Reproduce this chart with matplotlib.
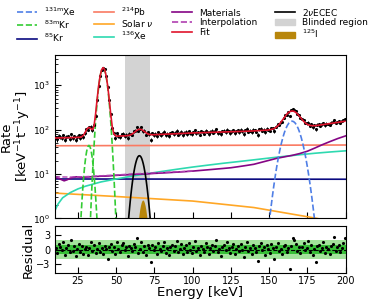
import numpy as np
import matplotlib
matplotlib.use("Agg")
import matplotlib.pyplot as plt
from matplotlib.lines import Line2D
from matplotlib.patches import Patch

# ---------------- data ----------------
bin_centers = np.arange(10.5, 200.0, 1.0)

fit_values = [
    64.6, 64.7, 64.9, 65.0, 65.2, 65.3, 65.5, 65.6, 65.8, 65.9,
    66.1, 66.2, 66.4, 66.5, 66.7, 66.8, 67.0, 69.2, 73.9, 83.4,
    97.1, 108.9, 111.4, 104.6, 98.9, 119.2, 215.0, 465.7, 945.0, 1613.0,
    2239.0, 2500.0, 2240.0, 1614.0, 946.0, 466.0, 213.0, 111.6, 80.1, 72.6,
    71.1, 71.3, 71.6, 71.8, 72.0, 72.3, 72.5, 73.3, 74.4, 76.3,
    79.6, 84.2, 89.9, 95.9, 100.3, 101.9, 100.4, 95.9, 90.1, 84.8,
    80.7, 77.9, 77.1, 76.5, 76.7, 77.0, 77.2, 77.5, 77.7, 77.9,
    78.2, 78.5, 78.8, 79.1, 79.4, 79.7, 80.0, 80.3, 80.6, 80.9,
    81.2, 81.5, 81.8, 82.1, 82.4, 82.7, 83.0, 83.3, 83.6, 83.9,
    84.1, 84.3, 84.5, 84.7, 84.9, 85.1, 85.3, 85.5, 85.7, 85.9,
    86.1, 86.3, 86.5, 86.7, 86.9, 87.1, 87.3, 87.5, 87.7, 87.9,
    88.1, 88.4, 88.6, 88.9, 89.1, 89.4, 89.6, 89.9, 90.1, 90.4,
    90.6, 90.9, 91.1, 91.4, 91.6, 91.9, 92.1, 92.4, 92.6, 92.9,
    93.3, 93.8, 94.3, 94.8, 95.3, 95.8, 96.3, 96.8, 97.3, 97.8,
    99.4, 101.0, 103.4, 106.9, 112.2, 119.7, 130.0, 143.5, 160.2, 179.5,
    200.5, 221.1, 239.5, 253.5, 261.3, 262.0, 255.6, 243.0, 226.0, 206.8,
    187.4, 169.8, 154.8, 143.0, 134.4, 128.6, 125.0, 123.2, 122.5, 122.6,
    122.7, 124.1, 125.5, 126.9, 128.3, 129.7, 131.1, 132.5, 133.9, 135.3,
    137.0, 138.9, 140.8, 142.7, 144.6, 146.5, 148.4, 150.3, 152.2, 154.1,
]

residuals = [
    0.3, -0.8, 1.2, 0.5, -0.2, 1.6, -1.1, 0.4, 0.9, -0.5,
    2.0, -0.3, 0.7, -1.4, 0.2, 1.1, -0.6, 0.8, -0.9, 0.1,
    0.6, -1.2, 0.3, 1.5, -0.4, 0.9, -0.7, 0.2, 1.3, -0.5,
    0.4, -0.9, 0.8, 0.1, -2.0, 0.6, 1.2, -0.3, 0.5, -1.0,
    1.7, 0.2, -0.6, 0.9, 1.4, -0.2, 0.5, -1.3, 0.8, 0.3,
    -0.4, 1.1, 0.6, 2.4, -0.8, 0.2, 1.5, -0.5, 0.7, -1.1,
    0.9, 0.3, -2.7, 1.0, -0.2, 0.6, -0.9, 1.3, 0.1, -0.4,
    0.8, 1.6, -0.7, 0.3, -1.2, 0.5, 1.0, -0.3, 0.7, 1.9,
    -0.6, 0.2, 1.2, -1.0, 0.4, 0.9, -0.5, 1.4, 0.0, -0.8,
    0.6, 1.8, -0.4, 0.3, -1.1, 0.8, 0.2, -0.6, 1.3, 0.5,
    -0.9, 0.4, 1.0, -0.3, 0.7, 2.1, -0.5, 0.1, -1.3, 0.6,
    0.9, -0.2, 1.5, 0.3, -0.7, 0.5, 1.1, -1.0, 0.2, 0.8,
    -0.4, 1.2, 0.0, -1.5, 0.6, 1.7, -0.3, 0.4, -0.9, 1.0,
    0.3, -0.6, -2.5, 0.8, 1.3, -0.2, 0.5, -1.2, 0.9, 0.1,
    -0.7, 1.1, 0.4, -2.0, 0.6, 1.4, -0.4, 0.2, -1.0, 0.7,
    1.0, -0.5, 0.3, -4.2, 0.8, 2.4, 2.0, 1.2, -0.3, 0.5,
    -0.8, 0.6, 1.3, -0.2, 0.4, 1.8, -0.6, 0.9, -1.1, 0.2,
    -2.6, 0.7, 1.0, -0.4, 0.3, 1.5, -0.7, 0.5, 0.1, -0.9,
    0.8, 1.2, 2.7, -0.3, 0.6, 1.0, -0.5, 0.4, 1.4, 2.5,
]

# smooth background components
pb214_E = [10, 100, 200]
pb214_V = [43.2, 44.0, 44.9]

kr85_E = [10, 200]
kr85_V = [7.7, 7.6]

solar_E = [10, 50, 100, 140, 181, 200]
solar_V = [3.7, 3.1, 2.45, 1.75, 1.0, 0.72]

xe136_E = [10, 12, 15, 20, 25, 30, 40, 50, 60, 70, 80, 90, 100, 110, 120,
           130, 140, 150, 160, 170, 180, 190, 200]
xe136_V = [1.5, 2.1, 2.9, 3.8, 4.6, 5.3, 6.6, 7.7, 8.9, 10.1, 11.4, 12.8, 14.3,
           15.8, 17.4, 19.0, 20.8, 22.8, 24.9, 27.1, 29.3, 31.3, 33.2]

mat_E = [10, 12, 14, 16, 18, 20, 22, 24, 26, 28, 30, 35, 40, 45, 50, 55, 60,
         65, 70, 75, 80, 90, 100, 110, 120, 125, 130, 135, 140, 145, 150, 155,
         160, 165, 170, 175, 180, 185, 190, 195, 200]
mat_V = [8.3, 8.1, 7.5, 7.0, 7.4, 8.0, 8.4, 8.6, 8.5, 8.3, 8.5, 8.7, 8.9, 9.0,
         9.3, 9.5, 9.7, 9.9, 10.0, 10.3, 10.5, 11.0, 11.6, 12.4, 13.3, 13.8,
         14.6, 15.5, 16.5, 18.3, 20.3, 22.5, 24.3, 26.2, 28.8, 32.5, 38.5, 46.0,
         54.0, 63.0, 72.0]

interp_E = [10, 20, 30, 40, 50, 60, 70, 80, 90, 100]
interp_V = [8.6, 8.5, 8.7, 9.1, 9.5, 10.0, 10.4, 10.8, 11.2, 11.6]

# peaks
xe131_E = np.arange(150.0, 180.5, 1.0)
xe131_V = [0.76, 1.51, 2.86, 5.16, 8.88, 14.6, 22.9, 34.2, 48.7, 66.2, 85.9,
           106.2, 125.3, 141, 151.4, 155, 151.4, 141, 125.3, 106.2, 85.9, 66.2,
           48.7, 34.2, 22.9, 14.6, 8.88, 5.16, 2.86, 1.51, 0.76]

kr83_main_E = np.arange(33.0, 50.25, 0.5)
kr83_main_V = [0.67, 1.72, 4.13, 9.4, 20.2, 41, 78.7, 143, 245, 396, 606, 876,
               1196, 1544, 1883, 2170, 2362, 2430, 2362, 2170, 1883, 1544, 1196,
               876, 606, 396, 245, 143, 78.7, 41, 20.2, 9.4, 4.13, 1.72, 0.67]

kr83_low_E = np.arange(26.7, 37.95, 0.5)
kr83_low_V = [0.67, 1.38, 2.66, 4.80, 8.06, 12.65, 18.5, 25.3, 32.2, 38.3, 42.5,
              44, 42.5, 38.3, 32.2, 25.3, 18.5, 12.65, 8.06, 4.80, 2.66, 1.38,
              0.67]

ecec_E = np.arange(57.7, 72.95, 0.5)
ecec_V = [0.64, 1.04, 1.61, 2.43, 3.54, 5.0, 6.83, 9.03, 11.5, 14.3, 17.1, 19.8,
          22.3, 24.2, 25.4, 25.8, 25.4, 24.2, 22.3, 19.8, 17.1, 14.3, 11.5,
          9.03, 6.83, 5.0, 3.54, 2.43, 1.61, 1.04, 0.64]

i125_E = np.arange(64.4, 70.65, 0.5)
i125_V = [0.84, 1.19, 1.58, 1.96, 2.29, 2.52, 2.6, 2.52, 2.29, 1.96, 1.58, 1.19,
          0.84]

blinded = (56.0, 72.3)

# ---------------- derived ----------------
fit_arr = np.array(fit_values)
res_arr = np.array(residuals)
err_arr = np.sqrt(0.57 * fit_arr)
data_arr = fit_arr + res_arr * err_arr

# ---------------- figure ----------------
fig = plt.figure(figsize=(3.74, 3.03), dpi=100)
ax = fig.add_axes([0.147, 0.2795, 0.777, 0.539])
axr = fig.add_axes([0.147, 0.099, 0.777, 0.155], sharex=ax)

c_xe131 = "#4f7fe6"
c_kr83 = "#33cc33"
c_kr85 = "#0a0a80"
c_pb = "#fa7a62"
c_solar = "#ffa726"
c_xe136 = "#2ed9b0"
c_mat = "#850585"
c_interp = "#b040b0"
c_fit = "#e0142c"
c_ecec = "black"
c_blind = "#d3d3d3"
c_i125 = "#b8860b"

ax.axvspan(*blinded, color=c_blind, lw=0, zorder=0)
ax.fill_between(i125_E, 0.1, i125_V, color=c_i125, lw=0, zorder=1)
ax.plot(pb214_E, pb214_V, color=c_pb, lw=1.2, zorder=2)
ax.plot(kr85_E, kr85_V, color=c_kr85, lw=1.2, zorder=2)
ax.plot(solar_E, solar_V, color=c_solar, lw=1.2, zorder=2)
ax.plot(xe136_E, xe136_V, color=c_xe136, lw=1.2, zorder=2)
ax.plot(mat_E, mat_V, color=c_mat, lw=1.2, zorder=2)
ax.plot(interp_E, interp_V, color=c_interp, lw=1.0, ls="--", zorder=2)
ax.plot(xe131_E, xe131_V, color=c_xe131, lw=1.2, ls="--", zorder=2)
ax.plot(kr83_low_E, kr83_low_V, color=c_kr83, lw=1.2, ls="--", zorder=2)
ax.plot(kr83_main_E, kr83_main_V, color=c_kr83, lw=1.2, ls="--", zorder=2)
ax.plot(ecec_E, ecec_V, color=c_ecec, lw=1.2, zorder=2)

ax.errorbar(bin_centers, data_arr, yerr=err_arr, xerr=0.5, fmt=".", color="black",
            ms=2.5, elinewidth=0.7, capsize=0, zorder=3)
ax.plot(bin_centers, fit_arr, color=c_fit, lw=1.2, zorder=4)

ax.set_yscale("log")
ax.set_ylim(1, 4800)
ax.set_xlim(10, 200)
ax.tick_params(which="both", direction="in", labelsize=6.5)
ax.tick_params(which="major", length=4)
ax.tick_params(which="minor", length=2)
ax.tick_params(axis="x", labelbottom=False)
ax.set_xticks([25, 50, 75, 100, 125, 150, 175, 200])
ax.set_ylabel("Rate\n[keV$^{-1}$t$^{-1}$y$^{-1}$]", fontsize=9.5, linespacing=1.05)
ax.yaxis.set_label_coords(-0.074, 0.5)

axr.fill_between([10, 200], -2, 2, color="#a3e39c", lw=0, zorder=0)
axr.fill_between([10, 200], -1, 1, color="#38c038", lw=0, zorder=1)
axr.axhline(0, color="black", ls="--", lw=0.8, zorder=2)
axr.plot(bin_centers, res_arr, ".", color="black", ms=2.5, zorder=3)
axr.set_ylim(-5, 5)
axr.set_yticks([-3, 0, 3])
axr.set_xlim(10, 200)
axr.tick_params(which="both", direction="in", labelsize=7, length=4)
axr.tick_params(axis="x", pad=2)
axr.set_xlabel("Energy [keV]", fontsize=9.5, labelpad=0)
axr.set_ylabel("Residual", fontsize=9.5)
axr.yaxis.set_label_coords(-0.068, 0.5)

handles = [
    Line2D([], [], color=c_xe131, ls="--", lw=1.2),
    Line2D([], [], color=c_kr83, ls="--", lw=1.2),
    Line2D([], [], color=c_kr85, lw=1.2),
    Line2D([], [], color=c_pb, lw=1.2),
    Line2D([], [], color=c_solar, lw=1.2),
    Line2D([], [], color=c_xe136, lw=1.2),
    Line2D([], [], color=c_mat, lw=1.2),
    Line2D([], [], color=c_interp, ls="--", lw=1.2),
    Line2D([], [], color=c_fit, lw=1.2),
    Line2D([], [], color=c_ecec, lw=1.2),
    Patch(color=c_blind),
    Patch(color=c_i125),
]
labels = [
    r"$^{131\mathrm{m}}$Xe", r"$^{83\mathrm{m}}$Kr", r"$^{85}$Kr",
    r"$^{214}$Pb", r"Solar $\nu$", r"$^{136}$Xe",
    "Materials", "Interpolation", "Fit",
    r"2$\nu$ECEC", "Blinded region", r"$^{125}$I",
]
fig.legend(handles, labels, ncol=4, loc="upper left",
           bbox_to_anchor=(0.036, 0.995), frameon=False, fontsize=6.5,
           handlelength=2.2, handletextpad=0.8, columnspacing=2.0,
           labelspacing=0.08, borderaxespad=0)

fig.savefig("out.png", dpi=100)
